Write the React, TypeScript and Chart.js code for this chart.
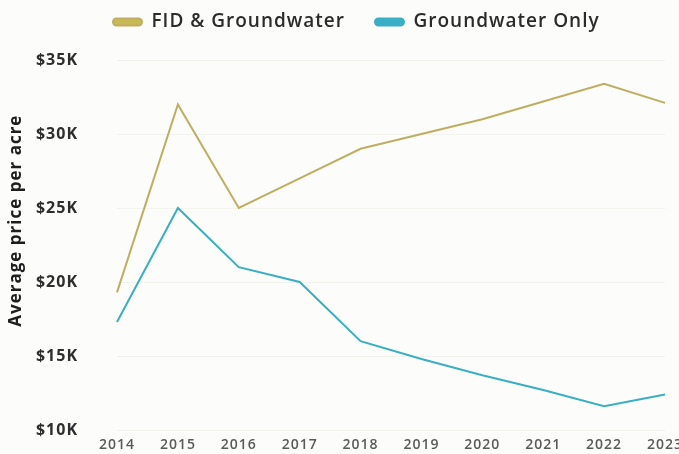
import React, { useEffect, useRef } from "react";
import { Chart, registerables } from "chart.js";

Chart.register(...registerables);

const years = ["2014", "2015", "2016", "2017", "2018", "2019", "2020", "2021", "2022", "2023"];
const fidGroundwater = [19300, 32000, 25000, 27000, 29000, 30000, 31000, 32200, 33400, 32100];
const groundwaterOnly = [17300, 25000, 21000, 20000, 16000, 14800, 13700, 12700, 11600, 12400];
const seriesNames = ["FID & Groundwater", "Groundwater Only"];
const yTitle = "         Average price per acre";

const FONT = "'Open Sans', sans-serif";

const layoutTweaks = {
  id: "layoutTweaks",
  beforeInit(chart: any) {
    (chart.ctx as any).letterSpacing = "1px";
    const lg = chart.legend;
    if (lg) {
      const orig = lg.fit;
      lg.fit = function () {
        orig.call(this);
        this.height = 60;
      };
    }
  },
  beforeUpdate(chart: any) {
    (chart.ctx as any).letterSpacing = "1px";
  },
  afterLayout(chart: any) {
    const lg = chart.legend;
    if (lg) {
      const pad = lg.options.labels.padding;
      const w = lg.right - lg.left;
      lg.left = 113 - pad;
      lg.right = lg.left + w;
      lg.top = 22 - pad - 9.5;
    }
  },
};

export default function App() {
  const ref = useRef<HTMLCanvasElement | null>(null);
  useEffect(() => {
    if (!ref.current) return;
    const chart = new Chart(ref.current, {
      type: "line",
      data: {
        labels: years,
        datasets: [
          {
            label: seriesNames[0],
            data: fidGroundwater,
            borderColor: "#bfae62",
            backgroundColor: "#c9b955",
            borderWidth: 2,
            pointRadius: 0,
            tension: 0,
          },
          {
            label: seriesNames[1],
            data: groundwaterOnly,
            borderColor: "#3aafc3",
            backgroundColor: "#3aaec6",
            borderWidth: 2,
            pointRadius: 0,
            tension: 0,
          },
        ],
      },
      options: {
        animation: false,
        responsive: false,
        maintainAspectRatio: false,
        layout: { padding: { left: 0, right: 14, top: 0, bottom: 0 } },
        plugins: {
          tooltip: { enabled: false },
          legend: {
            position: "top",
            align: "start",
            labels: {
              boxWidth: 29,
              boxHeight: 7,
              useBorderRadius: true,
              borderRadius: 3.5,
              padding: 30,
              color: "#2b2b2b",
              font: { family: FONT, size: 19, weight: "600" },
            },
          },
        },
        scales: {
          x: {
            offset: false,
            grid: { display: false, drawTicks: false },
            border: { display: false },
            ticks: {
              color: "#5a5a5a",
              padding: 7,
              maxRotation: 0,
              autoSkip: false,
              font: { family: FONT, size: 14, weight: "600" },
            },
            afterFit: (scale: any) => {
              scale.paddingRight = 0;
              scale.paddingLeft = 0;
              scale.height = 24;
            },
          },
          y: {
            min: 10000,
            max: 35000,
            grid: { color: "#f3f3ee", drawTicks: false },
            border: { display: false },
            ticks: {
              stepSize: 5000,
              padding: 39,
              color: "#2e2e2e",
              font: { family: FONT, size: 16, weight: "700" },
              callback: (v: any) => "$" + Number(v) / 1000 + "K",
            },
            title: {
              display: true,
              text: yTitle,
              color: "#1e1e1e",
              padding: { top: 6, bottom: 0 },
              font: { family: FONT, size: 17, weight: "700" },
            },
            afterFit: (scale: any) => {
              scale.width = 117;
              scale.paddingTop = 0;
              scale.paddingBottom = 0;
            },
          },
        },
      },
      plugins: [layoutTweaks],
    });
    return () => chart.destroy();
  }, []);
  return (
    <div
      style={{
        position: "fixed",
        left: 0,
        top: 0,
        width: 679,
        height: 454,
        overflow: "hidden",
        background: "#fcfcfa",
      }}
    >
      <canvas ref={ref} width={679} height={454} style={{ display: "block", width: 679, height: 454 }} />
    </div>
  );
}
